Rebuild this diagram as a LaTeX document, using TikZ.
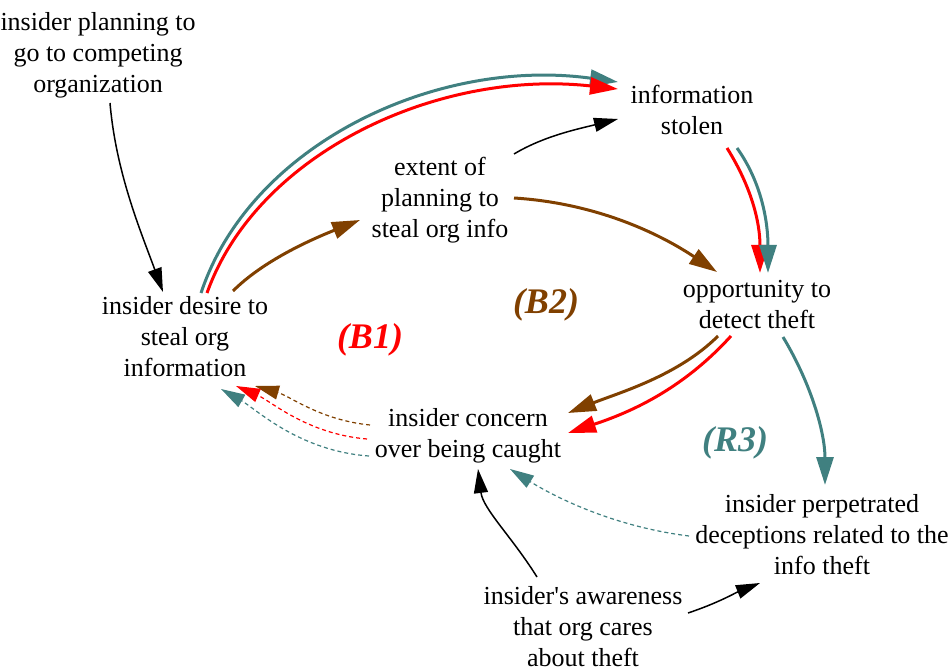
\documentclass[tikz,border=0pt]{standalone}
\usepackage{fontspec}
\setmainfont{Liberation Serif}
\usetikzlibrary{arrows.meta}
\definecolor{mteal}{rgb}{0.25, 0.5, 0.5}
\definecolor{mred}{rgb}{1, 0, 0}
\definecolor{mbrown}{rgb}{0.5, 0.25, 0}
\tikzset{var/.style = {align=center, inner sep=0pt,
                       font=\fontsize{26}{31}\selectfont}}
\tikzset{loopname/.style = {font=\fontsize{36}{40}\selectfont\bfseries\itshape}}
\tikzset{link/.style = {-{Triangle[length=24pt, width=14pt]}, line width=1.5pt}}
\tikzset{strong/.style = {-{Triangle[length=28pt, width=17pt]}, line width=3pt}}
\tikzset{weak/.style = {-{Triangle[length=24pt, width=14pt]}, line width=1.2pt,
                        dash pattern=on 4pt off 3pt}}

\begin{document}
\begin{tikzpicture}[x=1pt, y=-1pt]
      \useasboundingbox (0, 0) rectangle (951, 671);

      \node [var] (plan) at (98, 55) {insider planning to\\go to competing\\organization};
      \node [var] (desire) at (185, 337) {insider desire to\\steal org\\information};
      \node [var] (extent) at (440, 200) {extent of\\planning to\\steal org info};
      \node [var] (stolen) at (692, 110) {information\\stolen};
      \node [var] (opp) at (757, 305) {opportunity to\\detect theft};
      \node [var] (concern) at (468, 436) {insider concern\\over being caught};
      \node [var] (decep) at (822, 535) {insider perpetrated\\deceptions related to the\\info theft};
      \node [var] (aware) at (583, 627) {insider\textquotesingle s awareness\\that org cares\\about theft};

      \node [loopname, mred] (b1) at (370, 340) {(B1)};
      \node [loopname, mbrown] (b2) at (546, 305) {(B2)};
      \node [loopname, mteal] (r3) at (735, 443) {(R3)};

      \draw [link] ([shift={(12, 48)}]plan.center) .. controls +(6, 70) and +(-22, -60) .. ([shift={(-22, -45)}]desire.center);

      \draw [strong, mteal] ([shift={(16, -44)}]desire.center) .. controls +(50, -150) and +(-180, -25) .. ([shift={(-74, -28)}]stolen.center);
      \draw [strong, mred] ([shift={(22, -44)}]desire.center) .. controls +(50, -140) and +(-180, -20) .. ([shift={(-74, -21)}]stolen.center);
      \draw [strong, mbrown] ([shift={(48, -46)}]desire.center) .. controls +(30, -30) and +(-50, 20) .. ([shift={(-80, 20)}]extent.center);

      \draw [link] ([shift={(74, -46)}]extent.center) .. controls +(30, -18) and +(-40, 10) .. ([shift={(-74, 9)}]stolen.center);
      \draw [strong, mbrown] ([shift={(74, -2)}]extent.center) .. controls +(80, 5) and +(-60, -40) .. ([shift={(-40, -33)}]opp.center);

      \draw [strong, mred] ([shift={(35, 38)}]stolen.center) .. controls +(25, 40) and +(0, -50) .. ([shift={(3, -32)}]opp.center);
      \draw [strong, mteal] ([shift={(45, 38)}]stolen.center) .. controls +(25, 35) and +(0, -50) .. ([shift={(11, -32)}]opp.center);

      \draw [strong, mbrown] ([shift={(-39, 31)}]opp.center) .. controls +(-40, 40) and +(50, -20) .. ([shift={(100, -23)}]concern.center);
      \draw [strong, mred] ([shift={(-26, 31)}]opp.center) .. controls +(-50, 55) and +(60, -20) .. ([shift={(100, -3)}]concern.center);
      \draw [strong, mteal] ([shift={(26, 32)}]opp.center) .. controls +(30, 50) and +(0, -50) .. ([shift={(3, -50)}]decep.center);

      \draw [weak, mbrown] ([shift={(-98, -11)}]concern.center) .. controls +(-50, -5) and +(35, 10) .. ([shift={(70, 49)}]desire.center);
      \draw [weak, mred] ([shift={(-101, 3)}]concern.center) .. controls +(-60, -5) and +(35, 15) .. ([shift={(51, 49)}]desire.center);
      \draw [weak, mteal] ([shift={(-99, 20)}]concern.center) .. controls +(-70, -5) and +(35, 20) .. ([shift={(36, 52)}]desire.center);

      \draw [weak, mteal] ([shift={(-133, 1)}]decep.center) .. controls +(-80, -10) and +(40, 25) .. ([shift={(42, 33)}]concern.center);

      \draw [link] ([shift={(-46, -50)}]aware.center) .. controls +(-25, -40) and +(5, 40) .. ([shift={(10, 33)}]concern.center);
      \draw [link] ([shift={(105, -14)}]aware.center) .. controls +(30, -10) and +(-25, 10) .. ([shift={(-62, 48)}]decep.center);
    \end{tikzpicture}
\end{document}
